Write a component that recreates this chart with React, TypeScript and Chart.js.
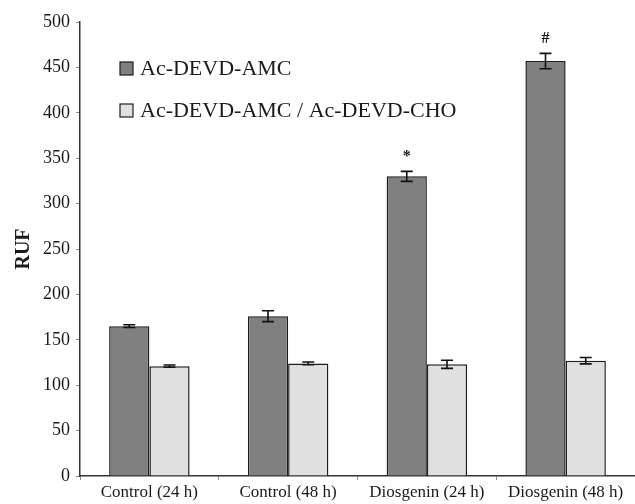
import React, { useEffect, useRef } from "react";
import { Chart, registerables } from "chart.js";

Chart.register(...registerables);

const categories = ["Control (24 h)", "Control (48 h)", "Diosgenin (24 h)", "Diosgenin (48 h)"];
const seriesNames = ["Ac-DEVD-AMC", "Ac-DEVD-AMC / Ac-DEVD-CHO"];
const amcValues = [165, 176, 330, 457];
const amcErrors = [1.5, 6, 5.5, 8.5];
const choValues = [121, 124, 123, 127];
const choErrors = [1.2, 1.5, 4.5, 3.5];
const significance = ["", "", "*", "#"];
const yTicks = [0, 50, 100, 150, 200, 250, 300, 350, 400, 450, 500];

const DARK = "#808080";
const LIGHT = "#e0e0e0";
const EDGE = "#1e1e1e";
const TEXT = "#1a1a1a";
const SERIF = "'Liberation Serif', 'DejaVu Serif', serif";

const errorPlugin = {
  id: "errorBars",
  afterDatasetsDraw(chart: any) {
    const ctx = chart.ctx;
    const yScale = chart.scales.y;
    const errs = [amcErrors, choErrors];
    ctx.save();
    ctx.strokeStyle = "#111";
    ctx.lineWidth = 1.6;
    chart.data.datasets.forEach((ds: any, di: number) => {
      const meta = chart.getDatasetMeta(di);
      meta.data.forEach((bar: any, i: number) => {
        const v = ds.data[i];
        const e = errs[di][i];
        const x = bar.x;
        const yTop = yScale.getPixelForValue(v + e);
        const yBot = yScale.getPixelForValue(v - e);
        const cap = 6;
        ctx.beginPath();
        ctx.moveTo(x, yTop);
        ctx.lineTo(x, yBot);
        ctx.moveTo(x - cap, yTop);
        ctx.lineTo(x + cap, yTop);
        ctx.moveTo(x - cap, yBot);
        ctx.lineTo(x + cap, yBot);
        ctx.stroke();
        if (di === 0 && significance[i]) {
          ctx.fillStyle = TEXT;
          ctx.font = `bold 16px ${SERIF}`;
          ctx.textAlign = "center";
          ctx.textBaseline = "alphabetic";
          ctx.fillText(significance[i], x, yTop - 10);
        }
      });
    });
    ctx.restore();
  },
};

const legendPlugin = {
  id: "customLegend",
  afterDraw(chart: any) {
    const ctx = chart.ctx;
    const area = chart.chartArea;
    const x0 = area.left + 40;
    const rows = [area.top + 46, area.top + 88];
    const colors = [DARK, LIGHT];
    ctx.save();
    ctx.font = `22px ${SERIF}`;
    ctx.textBaseline = "middle";
    ctx.textAlign = "left";
    seriesNames.forEach((name, i) => {
      const cy = rows[i];
      ctx.fillStyle = colors[i];
      ctx.fillRect(x0, cy - 6, 13, 13);
      ctx.strokeStyle = EDGE;
      ctx.lineWidth = 1.2;
      ctx.strokeRect(x0, cy - 6, 13, 13);
      ctx.fillStyle = TEXT;
      ctx.fillText(name, x0 + 20, cy + 1);
    });
    ctx.restore();
  },
};

export default function App() {
  const ref = useRef<HTMLCanvasElement>(null);
  useEffect(() => {
    if (!ref.current) return;
    const chart = new Chart(ref.current, {
      type: "bar",
      data: {
        labels: categories,
        datasets: [
          {
            label: seriesNames[0],
            data: amcValues,
            backgroundColor: DARK,
            borderColor: EDGE,
            borderWidth: 1.5,
            categoryPercentage: 0.58,
            barPercentage: 1,
          },
          {
            label: seriesNames[1],
            data: choValues,
            backgroundColor: LIGHT,
            borderColor: EDGE,
            borderWidth: 1.5,
            categoryPercentage: 0.58,
            barPercentage: 1,
          },
        ],
      },
      options: {
        animation: false,
        responsive: true,
        maintainAspectRatio: false,
        layout: { padding: { top: 22, right: 0, left: 0, bottom: 0 } },
        plugins: {
          legend: { display: false },
          tooltip: { enabled: false },
        },
        scales: {
          x: {
            grid: { drawOnChartArea: false, tickLength: 4, color: "#888", offset: true },
            border: { color: "#333", width: 1.5 },
            ticks: {
              color: TEXT,
              font: { family: SERIF, size: 17 },
              padding: 2,
              maxRotation: 0,
              autoSkip: false,
            },
            afterFit(scale: any) {
              scale.height = 28;
              scale.paddingLeft = 0;
              scale.paddingRight = 0;
            },
          },
          y: {
            min: 0,
            max: 500,
            afterBuildTicks(scale: any) {
              scale.ticks = yTicks.map((v) => ({ value: v }));
            },
            grid: { drawOnChartArea: false, tickLength: 4, color: "#888" },
            border: { color: "#333", width: 1.5 },
            ticks: {
              color: TEXT,
              font: { family: SERIF, size: 18 },
              padding: 6,
            },
            title: {
              display: true,
              text: "RUF",
              color: TEXT,
              font: { family: SERIF, size: 20, weight: "bold" },
              padding: { top: 12, bottom: 0 },
            },
            afterFit(scale: any) {
              scale.width = 80;
            },
          },
        },
      },
      plugins: [errorPlugin, legendPlugin],
    });
    return () => chart.destroy();
  }, []);
  return (
    <div style={{ position: "fixed", left: 0, top: 0, width: 635, height: 504, background: "#fff" }}>
      <canvas ref={ref} />
    </div>
  );
}
